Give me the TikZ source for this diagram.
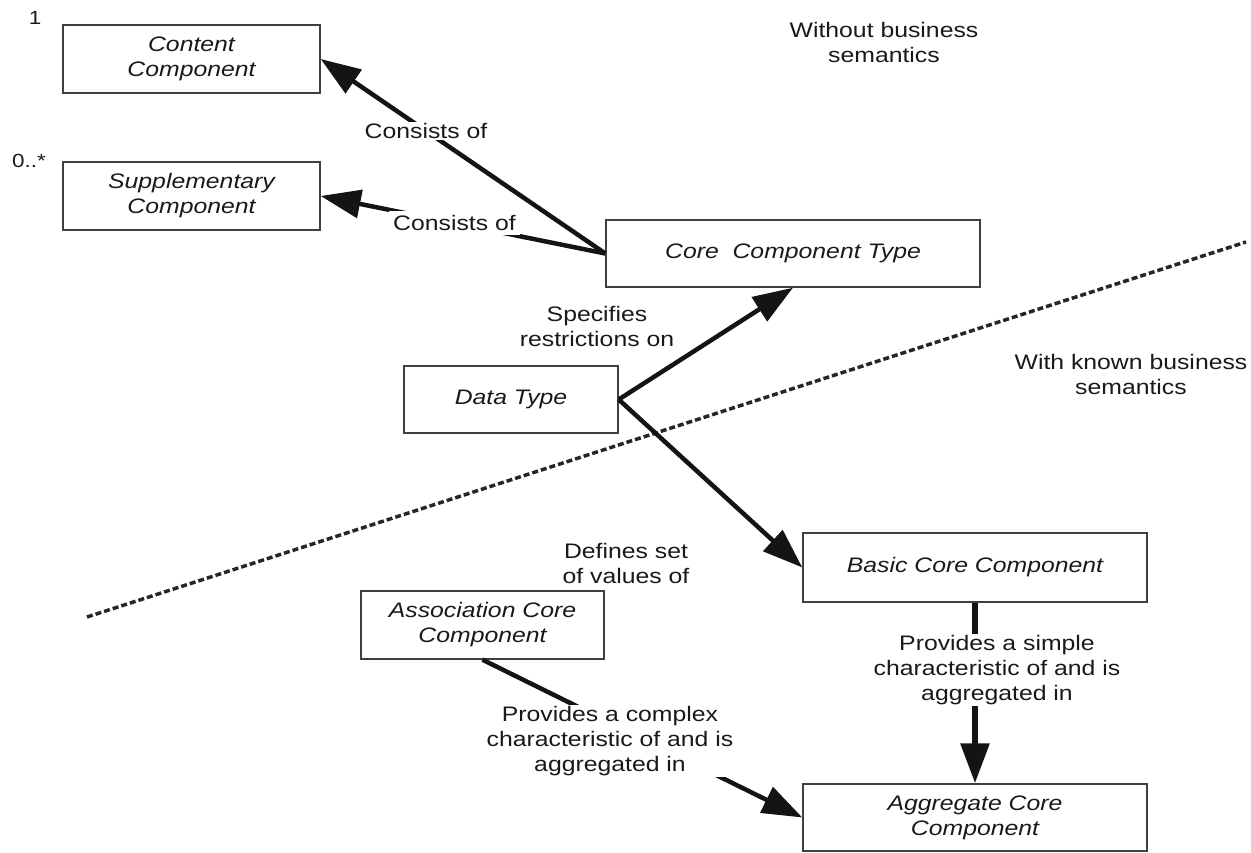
\documentclass[tikz,border=0pt]{standalone}
\usepackage{fontspec}
\setmainfont{Liberation Sans}[FakeStretch=1.18]
\usetikzlibrary{arrows.meta}
\begin{document}
\begin{tikzpicture}[x=1pt,y=-1pt,
  box/.style={draw=black!75, line width=1.4pt, inner sep=0pt, font=\fontsize{21}{25}\selectfont\itshape, align=center, text=black!90},
  lbl/.style={font=\fontsize{21}{25}\selectfont, align=center, text=black!90, inner sep=1.5pt},
  mult/.style={font=\fontsize{19}{21}\selectfont, text=black!90, inner sep=0pt},
  conn/.style={line width=4.5pt, black!92, -{Triangle[length=40pt,width=28pt]}},
  dotline/.style={line width=3.5pt, black!85, dash pattern=on 6pt off 3pt}
]
\useasboundingbox (0,0) rectangle (1251,853);
% boxes
\node[box, minimum width=257pt, minimum height=68pt] (content) at (191.5,59) {Content\\Component};
\node[box, minimum width=257pt, minimum height=68pt] (supp) at (191.5,196) {Supplementary\\Component};
\node[box, minimum width=374pt, minimum height=67pt] (ct) at (793,253.5) {Core\ \ Component Type};
\node[box, minimum width=214pt, minimum height=67pt] (dt) at (511,399.5) {Data Type};
\node[box, minimum width=344pt, minimum height=69pt] (bc) at (975,567.5) {Basic Core Component};
\node[box, minimum width=243pt, minimum height=68pt] (acc) at (482.5,625) {Association Core\\Component};
\node[box, minimum width=344pt, minimum height=67pt] (agg) at (975,817.5) {Aggregate Core\\Component};
% multiplicities
\node[mult] (m1) at (35,18) {1};
\node[mult] (m2) at (29,161) {0..*};
% region labels
\node[lbl] (without) at (884,42) {Without business\\semantics};
\node[lbl] (with) at (1131,374) {With known business\\semantics};
% dotted separator
\coordinate (d1) at (87,617);
\coordinate (d2) at (1246,242);
\draw[dotline] (d1) -- (d2);
% connectors
\draw[conn] (ct.west) -- node[lbl, fill=white, pos=0.63] (cons1) {Consists of} (content.east);
\draw[conn] (ct.west) -- node[lbl, fill=white, pos=0.53, inner sep=4pt] (cons2) {Consists of} (supp.east);
\draw[conn] (dt.east) -- (ct.south);
\draw[conn] (dt.east) -- (bc.west);
\draw[conn] (acc.south) -- (agg.west);
\draw[conn, line width=6pt] (bc.south) -- (agg.north);
% connector labels
\node[lbl] (spec) at (597,326) {Specifies\\restrictions on};
\node[lbl] (defs) at (626,563) {Defines set\\of values of};
\node[lbl, fill=white] (complex) at (610,741) {Provides a complex\\characteristic of and is\\aggregated in};
\node[lbl, fill=white] (simple) at (997,670) {Provides a simple\\characteristic of and is\\aggregated in};
\end{tikzpicture}
\end{document}
